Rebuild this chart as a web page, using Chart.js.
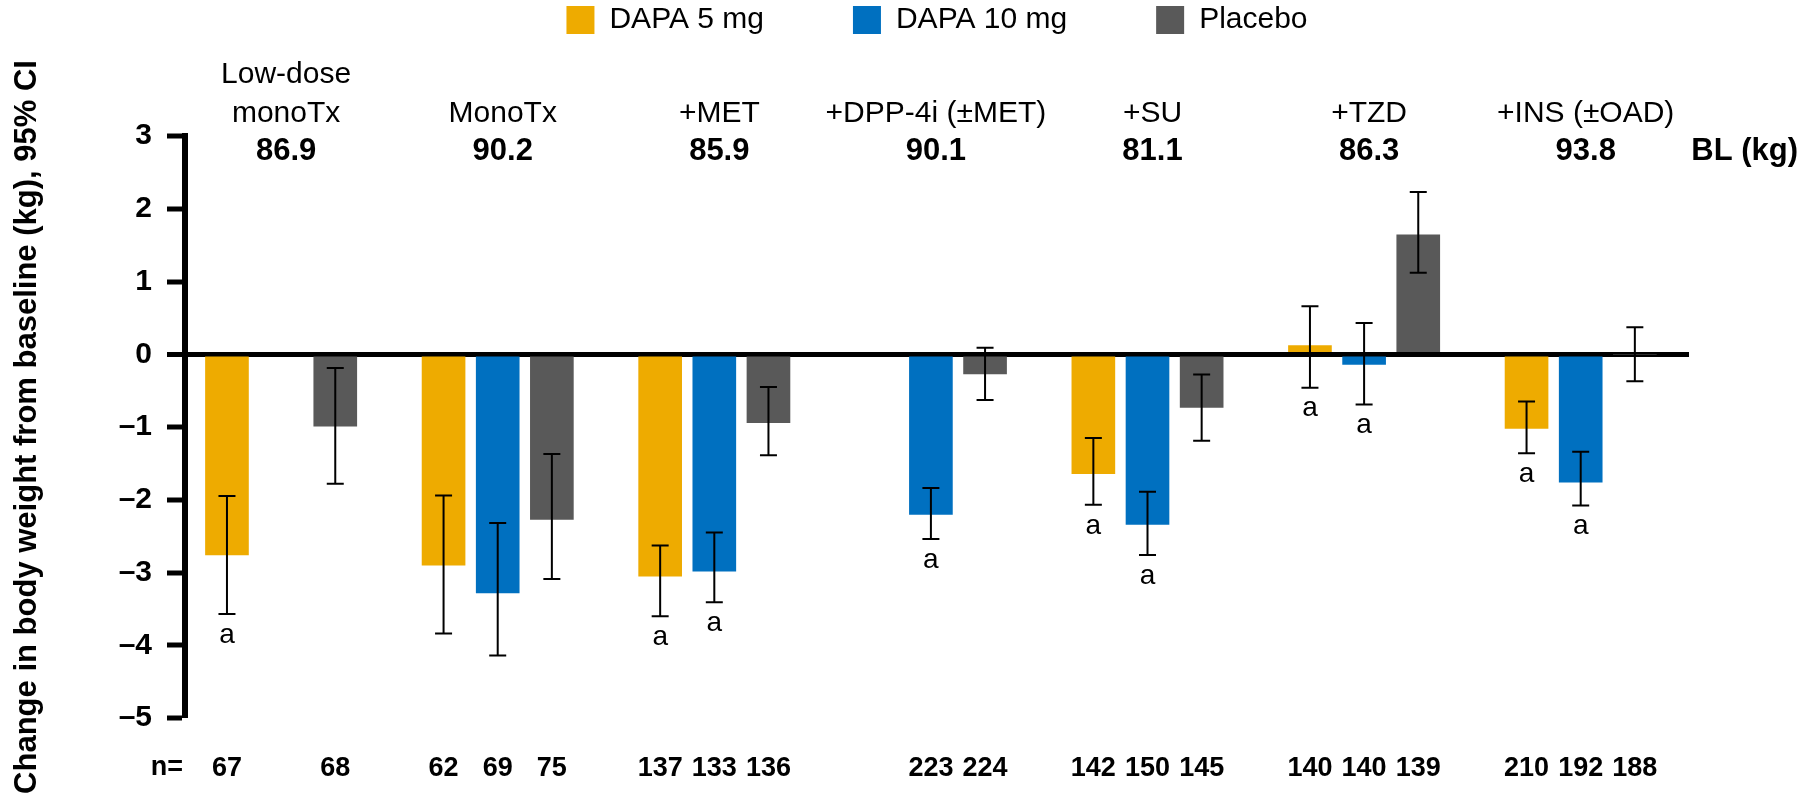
<!DOCTYPE html>
<html>
<head>
<meta charset="utf-8">
<title>Change in body weight by add-on therapy</title>
<script src="https://cdn.jsdelivr.net/npm/chart.js@4.4.1/dist/chart.umd.min.js"></script>
<style>
    html, body { margin: 0; padding: 0; background: #fff; }
    #wrap { width: 1807px; height: 807px; }
</style>
</head>
<body>
<div id="wrap"><canvas id="weightChart"></canvas></div>
<script>
// Study groups (label lines) and baseline weight
const groups = [['Low-dose', 'monoTx'], ['MonoTx'], ['+MET'], ['+DPP-4i (±MET)'], ['+SU'], ['+TZD'], ['+INS (±OAD)']];
const baselineKg = ['86.9', '90.2', '85.9', '90.1', '81.1', '86.3', '93.8'];
const yTicks = [3, 2, 1, 0, -1, -2, -3, -4, -5];

// Change from baseline (kg) with 95% CI, n, and "a" marker
const dapa5 = [-2.76, -2.90, -3.05, null, -1.64, 0.12, -1.02];
const dapa5Low = [-3.57, -3.84, -3.60, null, -2.07, -0.46, -1.36];
const dapa5High = [-1.95, -1.94, -2.63, null, -1.15, 0.66, -0.65];
const dapa5N = [67, 62, 137, null, 142, 140, 210];
const dapa5Sig = [true, false, true, null, true, true, true];

const dapa10 = [null, -3.28, -2.98, -2.20, -2.34, -0.14, -1.76];
const dapa10Low = [null, -4.14, -3.41, -2.54, -2.76, -0.69, -2.08];
const dapa10High = [null, -2.32, -2.45, -1.84, -1.89, 0.43, -1.34];
const dapa10N = [null, 69, 133, 223, 150, 140, 192];
const dapa10Sig = [null, false, true, true, true, true, true];

const placebo = [-0.99, -2.27, -0.94, -0.27, -0.73, 1.64, 0.00];
const placeboLow = [-1.78, -3.09, -1.39, -0.63, -1.19, 1.12, -0.37];
const placeboHigh = [-0.19, -1.37, -0.45, 0.09, -0.28, 2.23, 0.37];
const placeboN = [68, 75, 136, 224, 145, 139, 188];
const placeboSig = [false, false, false, false, false, false, false];

const FONT = '"Liberation Sans", Arial, sans-serif';
const SLOTS = 4; // 3 bars + 1 gap per group on the x scale
const CAP = 8.5;
const LEGEND_HEIGHT = 220;

// One point per bar: x = group slot on a linear scale
function buildPoints(values, low, high, n, sig, slot) {
    return values
        .map((v, g) => v === null ? null : { x: g * SLOTS + slot, y: v, lo: low[g], hi: high[g], n: n[g], sig: sig[g] })
        .filter(p => p !== null);
}

const series = [
    { label: 'DAPA 5 mg', color: '#EEAB00', points: buildPoints(dapa5, dapa5Low, dapa5High, dapa5N, dapa5Sig, 0) },
    { label: 'DAPA 10 mg', color: '#0070C0', points: buildPoints(dapa10, dapa10Low, dapa10High, dapa10N, dapa10Sig, 1) },
    { label: 'Placebo', color: '#595959', points: buildPoints(placebo, placeboLow, placeboHigh, placeboN, placeboSig, 2) },
];

// n labels on the x axis, keyed by bar position
const nByX = {};
series.forEach(s => s.points.forEach(p => { nByX[p.x] = p.n; }));
const nTicks = Object.keys(nByX).map(Number).sort((a, b) => a - b);

// Keep room under the legend for the study headers
const legendSpacing = {
    id: 'legendSpacing',
    beforeInit(chart) {
        const fit = chart.legend.fit;
        chart.legend.fit = function () {
            fit.call(this);
            this.height = LEGEND_HEIGHT;
        };
    }
};

// Error bars, "a" markers, study headers and "n="
const studyLabels = {
    id: 'studyLabels',
    afterDatasetsDraw(chart) {
        const { ctx, scales: { y } } = chart;
        ctx.save();
        ctx.strokeStyle = '#000';
        ctx.fillStyle = '#000';
        ctx.lineWidth = 2;
        ctx.font = `28px ${FONT}`;
        ctx.textAlign = 'center';
        ctx.textBaseline = 'middle';
        chart.data.datasets.forEach((ds, di) => {
            chart.getDatasetMeta(di).data.forEach((bar, i) => {
                const p = ds.data[i];
                const top = y.getPixelForValue(p.hi);
                const bottom = y.getPixelForValue(p.lo);
                ctx.beginPath();
                ctx.moveTo(bar.x, top);
                ctx.lineTo(bar.x, bottom);
                ctx.moveTo(bar.x - CAP, top);
                ctx.lineTo(bar.x + CAP, top);
                ctx.moveTo(bar.x - CAP, bottom);
                ctx.lineTo(bar.x + CAP, bottom);
                ctx.stroke();
                if (p.sig) {
                    ctx.fillText('a', bar.x, bottom + 21);
                }
            });
        });
        ctx.restore();
    },
    afterDraw(chart) {
        const { ctx, scales: { x } } = chart;
        ctx.save();
        ctx.fillStyle = '#000';
        ctx.textAlign = 'center';
        ctx.textBaseline = 'alphabetic';
        groups.forEach((lines, g) => {
            const cx = x.getPixelForValue(g * SLOTS + 1) + 5;
            ctx.font = `30px ${FONT}`;
            lines.forEach((line, k) => {
                ctx.fillText(line, cx, 122 - (lines.length - 1 - k) * 39);
            });
            ctx.font = `bold 31px ${FONT}`;
            ctx.fillText(baselineKg[g], cx, 160);
        });
        ctx.textAlign = 'right';
        ctx.fillText('BL (kg)', chart.width - 9, 160);

        ctx.font = `bold 27px ${FONT}`;
        ctx.textBaseline = 'middle';
        ctx.fillText('n=', chart.chartArea.left - 2, x.top + 34 + 16);
        ctx.restore();
    }
};

Chart.defaults.font.family = FONT;
Chart.defaults.color = '#000';

const ctx = document.getElementById('weightChart').getContext('2d');
new Chart(ctx, {
    type: 'bar',
    data: {
        datasets: series.map(s => ({
            label: s.label,
            data: s.points,
            backgroundColor: s.color,
            borderWidth: 0,
            barThickness: 43,
            grouped: false,
        }))
    },
    options: {
        responsive: true,
        maintainAspectRatio: false,
        animation: false,
        // negative top padding lets the wide legend gaps sit at the very top
        layout: { padding: { top: -84, right: 118, bottom: 23, left: 0 } },
        plugins: {
            tooltip: { enabled: false },
            legend: {
                position: 'top',
                fullSize: false,
                labels: {
                    boxWidth: 28,
                    boxHeight: 28,
                    padding: 89,
                    color: '#000',
                    font: { size: 30 }
                }
            }
        },
        scales: {
            x: {
                type: 'linear',
                min: -0.775,
                max: 27,
                offset: false,
                grid: { display: false, drawTicks: false },
                border: { display: false },
                afterFit: scale => { scale.height = 66; },
                afterBuildTicks: scale => { scale.ticks = nTicks.map(v => ({ value: v })); },
                ticks: {
                    autoSkip: false,
                    maxRotation: 0,
                    minRotation: 0,
                    padding: 34,
                    color: '#000',
                    font: { size: 27, weight: 'bold' },
                    callback: value => nByX[value]
                }
            },
            y: {
                min: -5,
                max: 3,
                z: 1,
                afterFit: scale => { scale.width = 185; },
                afterBuildTicks: scale => { scale.ticks = yTicks.map(v => ({ value: v })); },
                border: { display: true, color: '#000', width: 6 },
                grid: {
                    color: c => c.tick && c.tick.value === 0 ? '#000' : 'rgba(0,0,0,0)',
                    lineWidth: c => c.tick && c.tick.value === 0 ? 5 : 0,
                    tickColor: '#000',
                    tickWidth: 5,
                    tickLength: 18
                },
                ticks: {
                    padding: 15,
                    color: '#000',
                    font: { size: 30, weight: 'bold' },
                    callback: v => v < 0 ? '\u2013' + Math.abs(v) : String(v)
                },
                title: {
                    display: true,
                    text: 'Change in body weight from baseline (kg), 95% CI',
                    color: '#000',
                    font: { size: 31, weight: 'bold' },
                    padding: { top: 9, bottom: 0 }
                }
            }
        }
    },
    plugins: [legendSpacing, studyLabels]
});
</script>
</body>
</html>
